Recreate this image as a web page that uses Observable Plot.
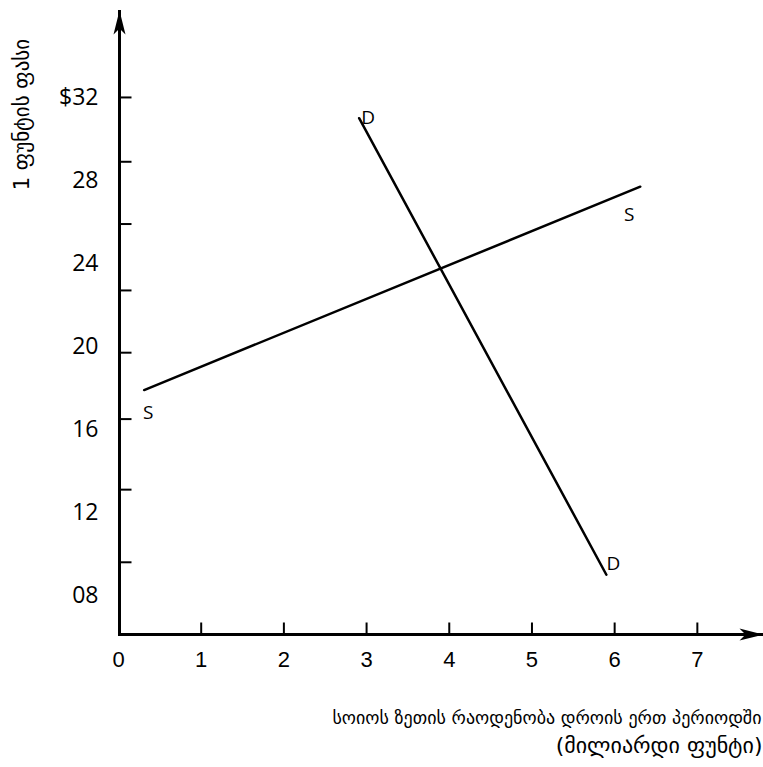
<!DOCTYPE html>
<html>
<head>
<meta charset="utf-8">
<script src="https://cdn.jsdelivr.net/npm/d3@7"></script>
<script src="https://cdn.jsdelivr.net/npm/@observablehq/plot@0.6"></script>
<style>
  html, body { margin: 0; padding: 0; background: #fff; overflow: hidden; }
</style>
</head>
<body>
<div id="chart"></div>
<script>
// ---- data ----
const xTickValues = [1, 2, 3, 4, 5, 6, 7];
const xLabelValues = [0, 1, 2, 3, 4, 5, 6, 7];
const xLabelTexts = ["0", "1", "2", "3", "4", "5", "6", "7"];

const yTickValues = [32, 28.9, 25.9, 22.7, 19.7, 16.5, 13.1, 9.6];
const yLabelValues = [32, 28, 24, 20, 16, 12, 8];
const yLabelTexts = ["$32", "28", "24", "20", "16", "12", "08"];

const supplyX = [0.31, 6.31];
const supplyY = [17.9, 27.7];
const demandX = [2.91, 5.9];
const demandY = [31, 9];

const curveNames = ["S", "D"];

const yTitle = "1 ფუნტის ფასი";
const xTitleLine1 = "სოიოს ზეთის რაოდენობა დროის ერთ პერიოდში";
const xTitleLine2 = "(მილიარდი ფუნტი)";

// domain limits (axis ends)
const xMin = 0, xMax = 7.8;
const yMin = 6.12, yMax = 36.19;

// ---- build tables ----
const supply = supplyX.map((x, i) => ({x, y: supplyY[i], curve: curveNames[0]}));
const demand = demandX.map((x, i) => ({x, y: demandY[i], curve: curveNames[1]}));
const xLabels = xLabelValues.map((v, i) => ({v, t: xLabelTexts[i]}));
const yLabels = yLabelValues.map((v, i) => ({v, t: yLabelTexts[i]}));

// custom symbols
const arrowUp = {draw(c) { c.moveTo(0, 0); c.lineTo(-6, 24); c.lineTo(0, 18); c.lineTo(6, 24); c.closePath(); }};
const arrowRight = {draw(c) { c.moveTo(0, 0); c.lineTo(-24, -6); c.lineTo(-18, 0); c.lineTo(-24, 6); c.closePath(); }};
const tickRight = {draw(c) { c.moveTo(0, 0); c.lineTo(12, 0); }};
const tickUp = {draw(c) { c.moveTo(0, 0); c.lineTo(0, -12); }};

const labelFont = "Open Sans";
const geoFont = "DejaVu Sans";

const chart = Plot.plot({
  width: 763,
  height: 767,
  marginLeft: 118,
  marginRight: 0,
  marginTop: 10,
  marginBottom: 133,
  x: {domain: [xMin, xMax], axis: null},
  y: {domain: [yMin, yMax], axis: null},
  style: {background: "white", fontFamily: labelFont},
  marks: [
    // axes lines
    Plot.ruleX([xMin], {y1: yMin, y2: yMax, dx: 1, stroke: "black", strokeWidth: 3}),
    Plot.ruleY([yMin], {x1: xMin, x2: xMax, stroke: "black", strokeWidth: 3}),
    Plot.dot([{x: xMin, y: yMax}], {x: "x", y: "y", dx: 1, symbol: arrowUp, fill: "black", stroke: "none"}),
    Plot.dot([{x: xMax, y: yMin}], {x: "x", y: "y", symbol: arrowRight, fill: "black", stroke: "none"}),
    // ticks
    Plot.dot(yTickValues, {x: xMin, y: d => d, dx: 1, symbol: tickRight, fill: "none", stroke: "black", strokeWidth: 2}),
    Plot.dot(xTickValues, {x: d => d, y: yMin, symbol: tickUp, fill: "none", stroke: "black", strokeWidth: 2}),
    // tick labels
    Plot.text(yLabels, {x: xMin, y: "v", text: "t", textAnchor: "end", dx: -20, fontSize: 23, fontFamily: labelFont, fill: "black"}),
    Plot.text(xLabels, {x: "v", y: yMin, text: "t", dy: 25, fontSize: 22, fontFamily: "Liberation Sans", fill: "black"}),
    // curves
    Plot.line(supply, {x: "x", y: "y", stroke: "black", strokeWidth: 2.5}),
    Plot.line(demand, {x: "x", y: "y", stroke: "black", strokeWidth: 2.5}),
    // curve labels
    Plot.text([demand[0]], {x: "x", y: "y", text: "curve", textAnchor: "start", dx: 2, dy: 0, fontSize: 19, fontFamily: labelFont, fill: "black"}),
    Plot.text([demand[1]], {x: "x", y: "y", text: "curve", textAnchor: "start", dx: 0, dy: -11, fontSize: 19, fontFamily: labelFont, fill: "black"}),
    Plot.text([supply[1]], {x: "x", y: "y", text: "curve", textAnchor: "middle", dx: -11, dy: 28, fontSize: 19, fontFamily: labelFont, fill: "black"}),
    Plot.text([supply[0]], {x: "x", y: "y", text: "curve", textAnchor: "middle", dx: 4, dy: 23, fontSize: 19, fontFamily: labelFont, fill: "black"}),
    // axis titles
    Plot.text([yTitle], {frameAnchor: "top-left", text: d => d, rotate: -90, textAnchor: "middle", lineAnchor: "middle", dx: -96, dy: 104, fontSize: 21, fontFamily: geoFont, fill: "black"}),
    Plot.text([xTitleLine1], {frameAnchor: "bottom-right", text: d => d, textAnchor: "end", lineAnchor: "middle", dx: -2, dy: 84, fontSize: 18, fontFamily: geoFont, fill: "black"}),
    Plot.text([xTitleLine2], {frameAnchor: "bottom-right", text: d => d, textAnchor: "end", lineAnchor: "middle", dx: -1, dy: 111, fontSize: 22, fontFamily: geoFont, fill: "black"})
  ]
});

document.getElementById("chart").appendChild(chart);
</script>
</body>
</html>
